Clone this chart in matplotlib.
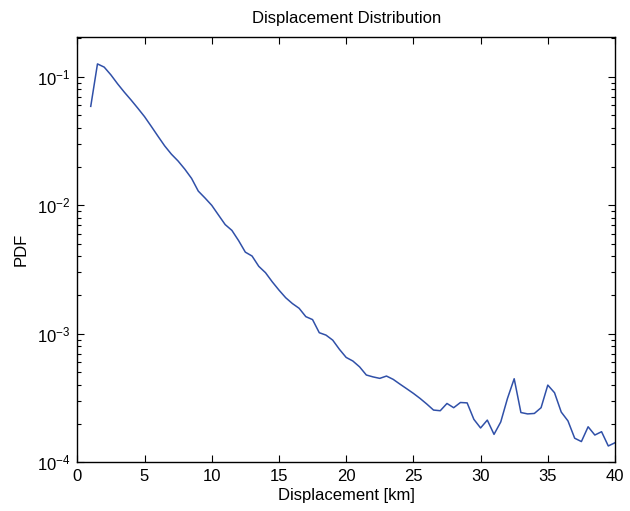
import matplotlib
matplotlib.use("Agg")
import matplotlib.pyplot as plt
from matplotlib.ticker import LogLocator, FixedLocator, NullFormatter

plt.rcParams['font.family'] = ['Liberation Sans', 'DejaVu Sans']
plt.rcParams['mathtext.fontset'] = 'custom'
plt.rcParams['mathtext.rm'] = 'Liberation Sans'
plt.rcParams['mathtext.it'] = 'Liberation Sans'

# Bin centres of the displacement histogram [km]
displacement = [1.0, 1.5, 2.0, 2.5, 3.0, 3.5, 4.0, 4.5, 5.0, 5.5,
                6.0, 6.5, 7.0, 7.5, 8.0, 8.5, 9.0, 9.5, 10.0, 10.5,
                11.0, 11.5, 12.0, 12.5, 13.0, 13.5, 14.0, 14.5, 15.0, 15.5,
                16.0, 16.5, 17.0, 17.5, 18.0, 18.5, 19.0, 19.5, 20.0, 20.5,
                21.0, 21.5, 22.0, 22.5, 23.0, 23.5, 24.0, 24.5, 25.0, 25.5,
                26.0, 26.5, 27.0, 27.5, 28.0, 28.5, 29.0, 29.5, 30.0, 30.5,
                31.0, 31.5, 32.0, 32.5, 33.0, 33.5, 34.0, 34.5, 35.0, 35.5,
                36.0, 36.5, 37.0, 37.5, 38.0, 38.5, 39.0, 39.5, 40.0]

# Probability density per bin
pdf = [0.0589, 0.126, 0.119, 0.1035, 0.0881, 0.0759, 0.0660, 0.0570, 0.0490, 0.0412,
       0.0345, 0.0290, 0.0250, 0.0221, 0.0191, 0.0162, 0.0129, 0.0114, 0.0100, 0.00841,
       0.00708, 0.00638, 0.00531, 0.00432, 0.00403, 0.00335, 0.00299, 0.00254, 0.00219, 0.00191,
       0.00172, 0.00158, 0.00136, 0.00129, 0.00102, 0.000977, 0.000893, 0.000757, 0.000655, 0.000614,
       0.000553, 0.000478, 0.000462, 0.000450, 0.000469, 0.000442, 0.000406, 0.000374, 0.000344, 0.000314,
       0.000284, 0.000255, 0.000252, 0.000287, 0.000266, 0.000292, 0.000290, 0.000216, 0.000185, 0.000213,
       0.000165, 0.000206, 0.000314, 0.000447, 0.000244, 0.000238, 0.000240, 0.000266, 0.000399, 0.000348,
       0.000246, 0.000210, 0.000154, 0.000145, 0.000189, 0.000163, 0.000173, 0.000134, 0.000142]

x_ticks = [0, 5, 10, 15, 20, 25, 30, 35, 40]

fig = plt.figure(figsize=(6.3, 5.11), dpi=100)
ax = fig.add_axes([0.1227, 0.0953, 0.8535, 0.8317])

ax.plot(displacement, pdf, color='#3050a8', linewidth=1.1)

ax.set_yscale('log')
ax.set_xlim(0, 40)
ax.set_ylim(1e-4, 0.203)
ax.xaxis.set_major_locator(FixedLocator(x_ticks))
ax.yaxis.set_major_locator(LogLocator(base=10, numticks=10))
ax.yaxis.set_minor_locator(LogLocator(base=10, subs=range(2, 10), numticks=10))
ax.yaxis.set_minor_formatter(NullFormatter())

ax.tick_params(which='both', direction='in', top=True, right=True,
               colors='black', width=0.8)
ax.tick_params(axis='x', labelsize=12)
ax.tick_params(axis='y', labelsize=12)
ax.tick_params(which='major', length=5, pad=5)
ax.tick_params(which='minor', length=3)
for s in ax.spines.values():
    s.set_linewidth(1.0)

ax.set_title('Displacement Distribution', fontsize=12, pad=10)
ax.set_xlabel('Displacement [km]', fontsize=12, labelpad=3)
ax.set_ylabel('PDF', fontsize=12, labelpad=6)

fig.savefig('out.png', dpi=100)
